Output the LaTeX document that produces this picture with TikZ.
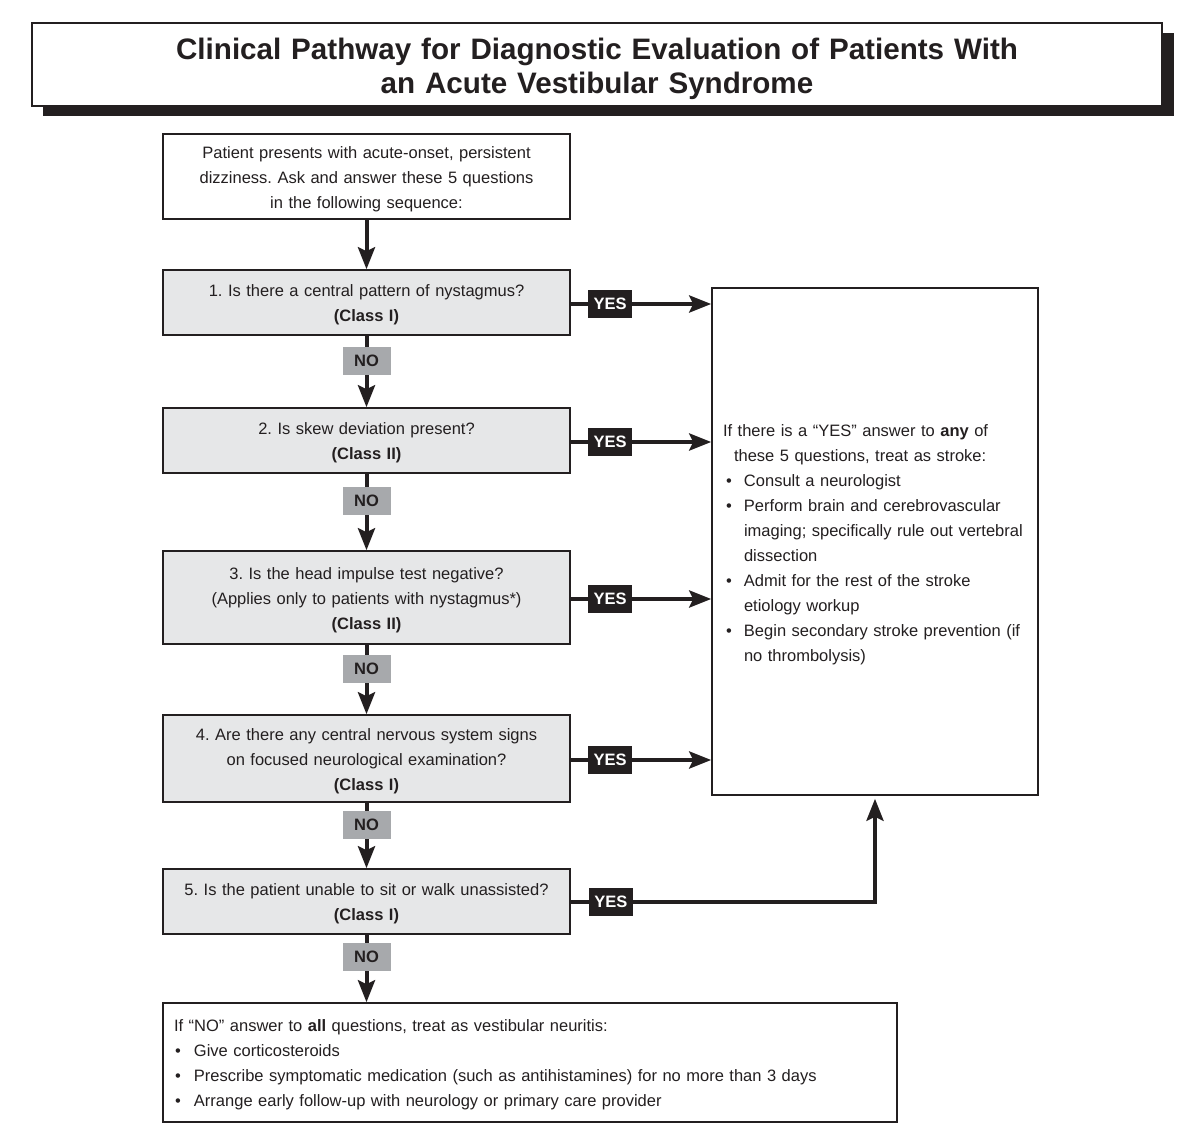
\documentclass[tikz,border=0pt]{standalone}
\usepackage{fontspec}
\setmainfont{Liberation Sans}
\usetikzlibrary{arrows.meta}
\definecolor{ink}{HTML}{231F20}
\definecolor{qfill}{HTML}{E6E7E8}
\definecolor{nofill}{HTML}{A7A9AC}
\newcommand{\bul}[1]{\makebox[#1][l]{\hspace*{3pt}\textbullet}}
\frenchspacing
\begin{document}
\frenchspacing
\begin{tikzpicture}[x=1pt,y=-1pt,
  every node/.style={font=\fontsize{16.5}{25}\selectfont\frenchspacing, text=ink},
  lower/.style={execute at begin node={\rule{0pt}{#1}}},
  wbox/.style={draw=ink, line width=1.5pt, fill=white, inner sep=0pt},
  qbox/.style={draw=ink, line width=1.5pt, fill=qfill, minimum width=407pt, text width=407pt, align=center, inner sep=0pt, lower=17pt},
  flow/.style={draw=ink, line width=4pt, -{Stealth[length=22pt,width=17pt,inset=4pt]}},
  nolab/.style={fill=nofill, text=ink, font=\fontsize{16.5}{20}\selectfont\bfseries, minimum width=48pt, minimum height=28pt, inner sep=0pt},
  yeslab/.style={fill=ink, text=white, font=\fontsize{16.5}{20}\selectfont\bfseries, minimum width=44pt, minimum height=28pt, inner sep=0pt},
]
\useasboundingbox (0,0) rectangle (1200,1131);
% title with shadow
\fill[ink] (43,33) rectangle (1174,116);
\node[wbox, minimum width=1130pt, minimum height=83pt, text width=1130pt, align=center, lower=29.5pt,
      font=\fontsize{29.6}{34}\selectfont\bfseries] (title) at (597,64.5)
  {Clinical Pathway for Diagnostic Evaluation of Patients With\\an Acute Vestibular Syndrome};

\node[wbox, minimum width=407pt, minimum height=85pt, text width=407pt, align=center, lower=17pt] (start) at (366.5,176.5)
  {Patient presents with acute-onset, persistent\\dizziness. Ask and answer these 5 questions\\in the following sequence:};
\node[qbox, minimum height=65pt] (q1) at (366.5,302.5)
  {1. Is there a central pattern of nystagmus?\\\textbf{(Class I)}};
\node[qbox, minimum height=65pt] (q2) at (366.5,440.5)
  {2. Is skew deviation present?\\\textbf{(Class II)}};
\node[qbox, minimum height=93pt] (q3) at (366.5,597.5)
  {3. Is the head impulse test negative?\\(Applies only to patients with nystagmus*)\\\textbf{(Class II)}};
\node[qbox, minimum height=87pt] (q4) at (366.5,758.5)
  {4. Are there any central nervous system signs\\on focused neurological examination?\\\textbf{(Class I)}};
\node[qbox, minimum height=65pt] (q5) at (366.5,901.5)
  {5. Is the patient unable to sit or walk unassisted?\\\textbf{(Class I)}};

\node[wbox, minimum width=326pt, minimum height=507pt, inner xsep=11pt, text width=304pt, align=left, lower=18pt] (stroke) at (875,541.5)
  {If there is a “YES” answer to \textbf{any} of\\
   \hspace*{11pt}these 5 questions, treat as stroke:\\
   \bul{21pt}Consult a neurologist\\
   \bul{21pt}Perform brain and cerebrovascular\\
   \hspace*{21pt}\mbox{imaging; specifically rule out vertebral}\\
   \hspace*{21pt}dissection\\
   \bul{21pt}Admit for the rest of the stroke\\
   \hspace*{21pt}etiology workup\\
   \bul{21pt}\mbox{Begin secondary stroke prevention (if}\\
   \hspace*{21pt}no thrombolysis)};

\node[wbox, minimum width=734pt, minimum height=119pt, inner xsep=11pt, text width=712pt, align=left, lower=16pt] (neur) at (530,1062.5)
  {If “NO” answer to \textbf{all} questions, treat as vestibular neuritis:\\
   \makebox[20pt][l]{\hspace*{1pt}\textbullet}Give corticosteroids\\
   \makebox[20pt][l]{\hspace*{1pt}\textbullet}Prescribe symptomatic medication (such as antihistamines) for no more than 3 days\\
   \makebox[20pt][l]{\hspace*{1pt}\textbullet}Arrange early follow-up with neurology or primary care provider};

% vertical flow
\draw[flow] (start.south) -- (q1.north);
\draw[flow] (q1.south) -- node[nolab, pos=0.35] {NO} (q2.north);
\draw[flow] (q2.south) -- node[nolab, pos=0.36] {NO} (q3.north);
\draw[flow] (q3.south) -- node[nolab, pos=0.35] {NO} (q4.north);
\draw[flow] (q4.south) -- node[nolab, pos=0.34] {NO} (q5.north);
\draw[flow] (q5.south) -- node[nolab, pos=0.33] {NO} (q5.south |- neur.north);

% yes arrows
\coordinate (y1) at ([yshift=-1.5pt]q1.east);
\coordinate (y2) at ([yshift=-1.5pt]q2.east);
\coordinate (y3) at ([yshift=-1.5pt]q3.east);
\coordinate (y4) at ([yshift=-1.5pt]q4.east);
\draw[flow] (y1) -- node[yeslab, pos=0.28] {YES} (y1 -| stroke.west);
\draw[flow] (y2) -- node[yeslab, pos=0.28] {YES} (y2 -| stroke.west);
\draw[flow] (y3) -- node[yeslab, pos=0.28] {YES} (y3 -| stroke.west);
\draw[flow] (y4) -- node[yeslab, pos=0.28] {YES} (y4 -| stroke.west);
\draw[flow] (q5.east) -| node[yeslab, pos=0.066] {YES} ([yshift=-3pt]stroke.south);
\end{tikzpicture}
\end{document}
